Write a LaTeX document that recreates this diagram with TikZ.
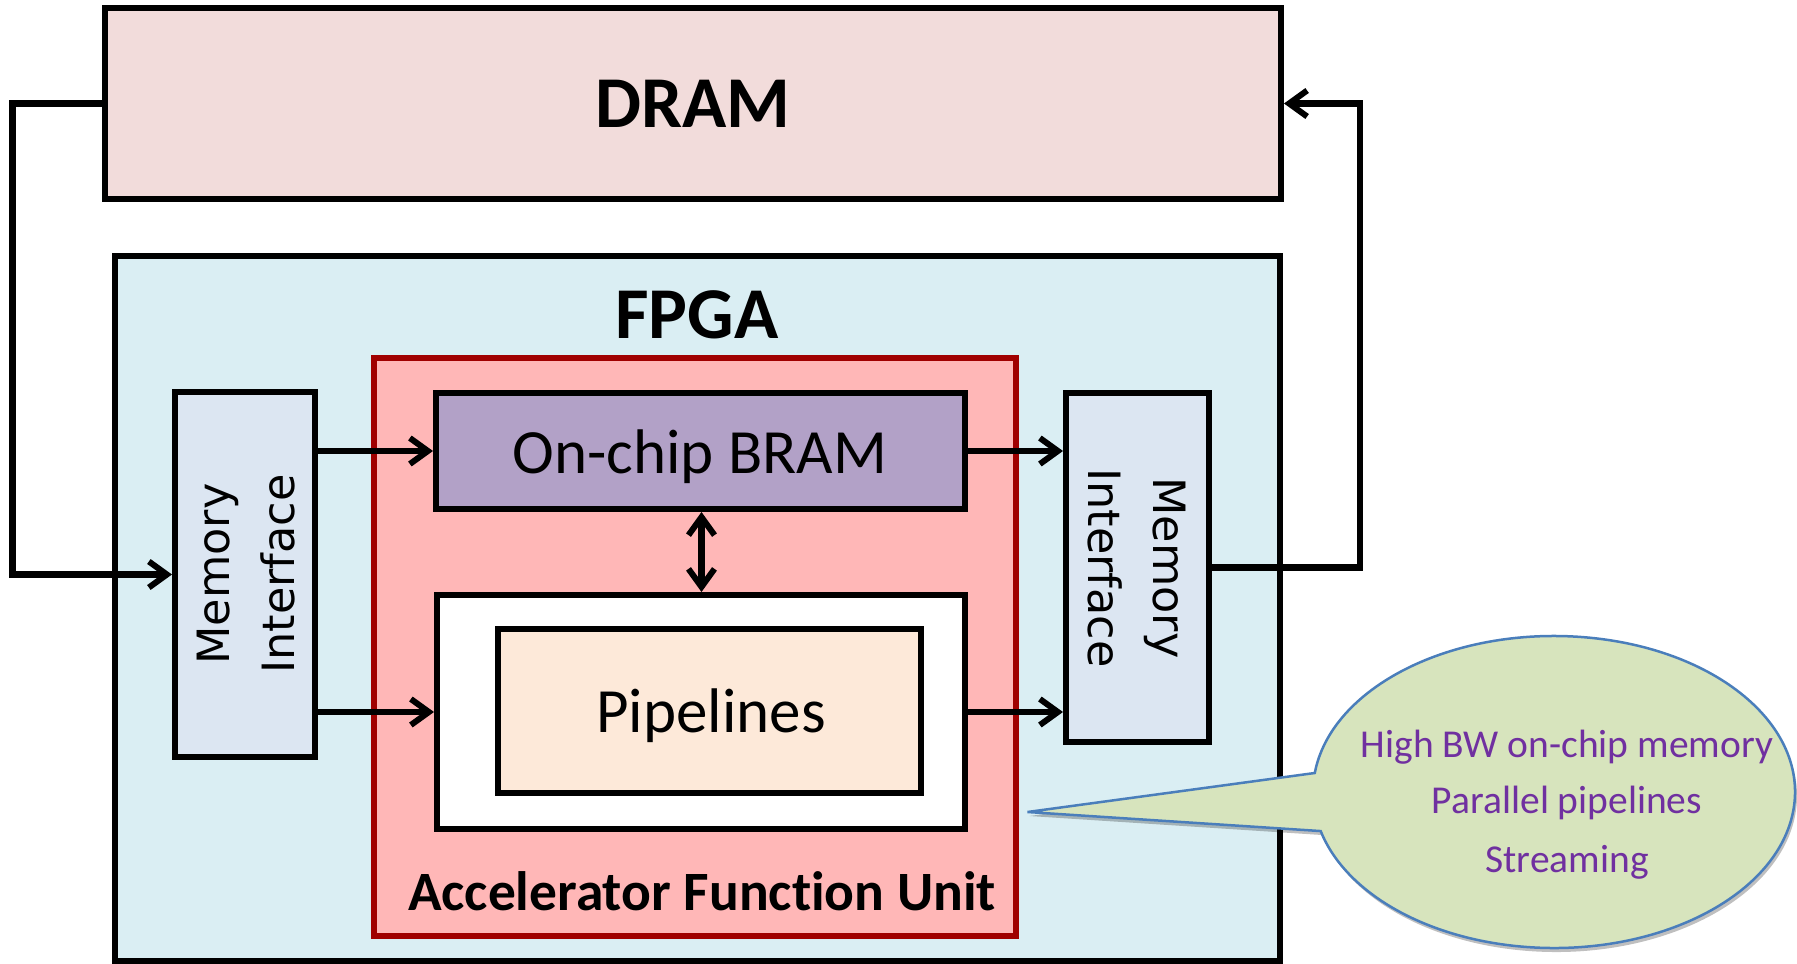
\documentclass[tikz,border=0pt]{standalone}
\usepackage{fontspec}
\setmainfont{Carlito}[Ligatures=NoCommon]
\newfontfamily\mifont{DejaVu Sans}
\usetikzlibrary{arrows.meta,calc,shadows}

\definecolor{dramfill}{HTML}{F2DCDB}
\definecolor{fpgafill}{HTML}{DAEEF3}
\definecolor{afufill}{HTML}{FFB7B7}
\definecolor{afuline}{HTML}{A00000}
\definecolor{bramfill}{HTML}{B2A1C7}
\definecolor{mifill}{HTML}{DCE6F2}
\definecolor{pipefill}{HTML}{FDE9D9}
\definecolor{callfill}{HTML}{D7E4BD}
\definecolor{callline}{HTML}{4A7EBB}
\definecolor{calltext}{HTML}{7030A0}

\begin{document}
\begin{tikzpicture}[x=1pt,y=-1pt,
  box/.style={draw=black,line width=6pt,inner sep=0pt,rectangle},
  barb/.tip={Straight Barb[length=18pt,width=26pt,line width=6pt]},
  conn/.style={line width=6.5pt,-barb},
  biconn/.style={line width=6.5pt,barb-barb},
  bigtitle/.style={font=\fontsize{73}{73}\selectfont\bfseries},
  blocktext/.style={font=\fontsize{63}{63}\selectfont,anchor=base},
  mitext/.style={font=\mifont\fontsize{44.5}{65}\selectfont,align=center},
  calloutline/.style={font=\fontsize{39.5}{57}\selectfont,text=calltext,anchor=base},
]
\useasboundingbox (0,0) rectangle (1797,964);

% memory and the FPGA frame
\node[box,fill=dramfill,minimum width=1176pt,minimum height=191pt,bigtitle] (dram) at (693,103.5) {DRAM};
\node[box,fill=fpgafill,minimum width=1165pt,minimum height=705pt] (fpga) at (697.5,608.5) {};
\node[bigtitle] (fpgalabel) at (697,315) {FPGA};

% accelerator function unit and its contents
\node[box,draw=afuline,fill=afufill,minimum width=642pt,minimum height=578pt] (afu) at (695,647) {};
\node[font=\fontsize{55.5}{55.5}\selectfont\bfseries,anchor=base] (afulabel) at (702,910) {Accelerator Function Unit};

\node[box,fill=bramfill,minimum width=529pt,minimum height=116pt] (bram) at (700.5,451) {};
\node[blocktext] (bramlabel) at (700,473) {On-chip BRAM};

\node[box,fill=white,minimum width=528pt,minimum height=234pt] (wbox) at (701,712) {};
\node[box,fill=pipefill,minimum width=423pt,minimum height=164pt] (pipe) at (709.5,711) {};
\node[blocktext] (pipelabel) at (711,732) {Pipelines};

% memory interfaces
\node[box,fill=mifill,minimum width=140pt,minimum height=365pt] (lmi) at (245,574.5) {};
\node[mitext,rotate=90] (lmitext) at (246,574) {Memory\\Interface};
\node[box,fill=mifill,minimum width=143pt,minimum height=349pt] (rmi) at (1137.5,567.5) {};
\node[mitext,rotate=-90] (rmitext) at (1137,568) {Memory\\Interface};

% routing points of the outer loops
\coordinate (lft) at (12.5,300);
\coordinate (rgt) at (1360,300);

% data paths
\draw[conn] (lmi.east |- bram.west) -- (bram.west);
\draw[conn] (lmi.east |- wbox.west) -- (wbox.west);
\draw[conn] (bram.east) -- (rmi.west |- bram.east);
\draw[conn] (wbox.east) -- (rmi.west |- wbox.east);
\draw[biconn] (bram.south -| 701.5,0) -- (wbox.north -| 701.5,0);
\draw[conn] (dram.west) -| (lft) |- (lmi.west);
\draw[conn] (rmi.east) -| (rgt) |- (dram.east);

% callout
\coordinate (tip) at (1027.5,812);
\coordinate (cc) at (1554,792);
\draw[callline,line width=2.5pt,fill=callfill,
      drop shadow={shadow xshift=2pt,shadow yshift=-4pt,opacity=0.25,fill=black}]
  (tip) -- ($(cc)+(187:241 and 156)$)
  arc[start angle=187,end angle=525.5,x radius=241,y radius=156] -- cycle;
\node[calloutline] (c1) at (1567,757) {High BW on-chip memory};
\node[calloutline] (c2) at (1567,813) {Parallel pipelines};
\node[calloutline] (c3) at (1567,872) {Streaming};
\end{tikzpicture}
\end{document}
